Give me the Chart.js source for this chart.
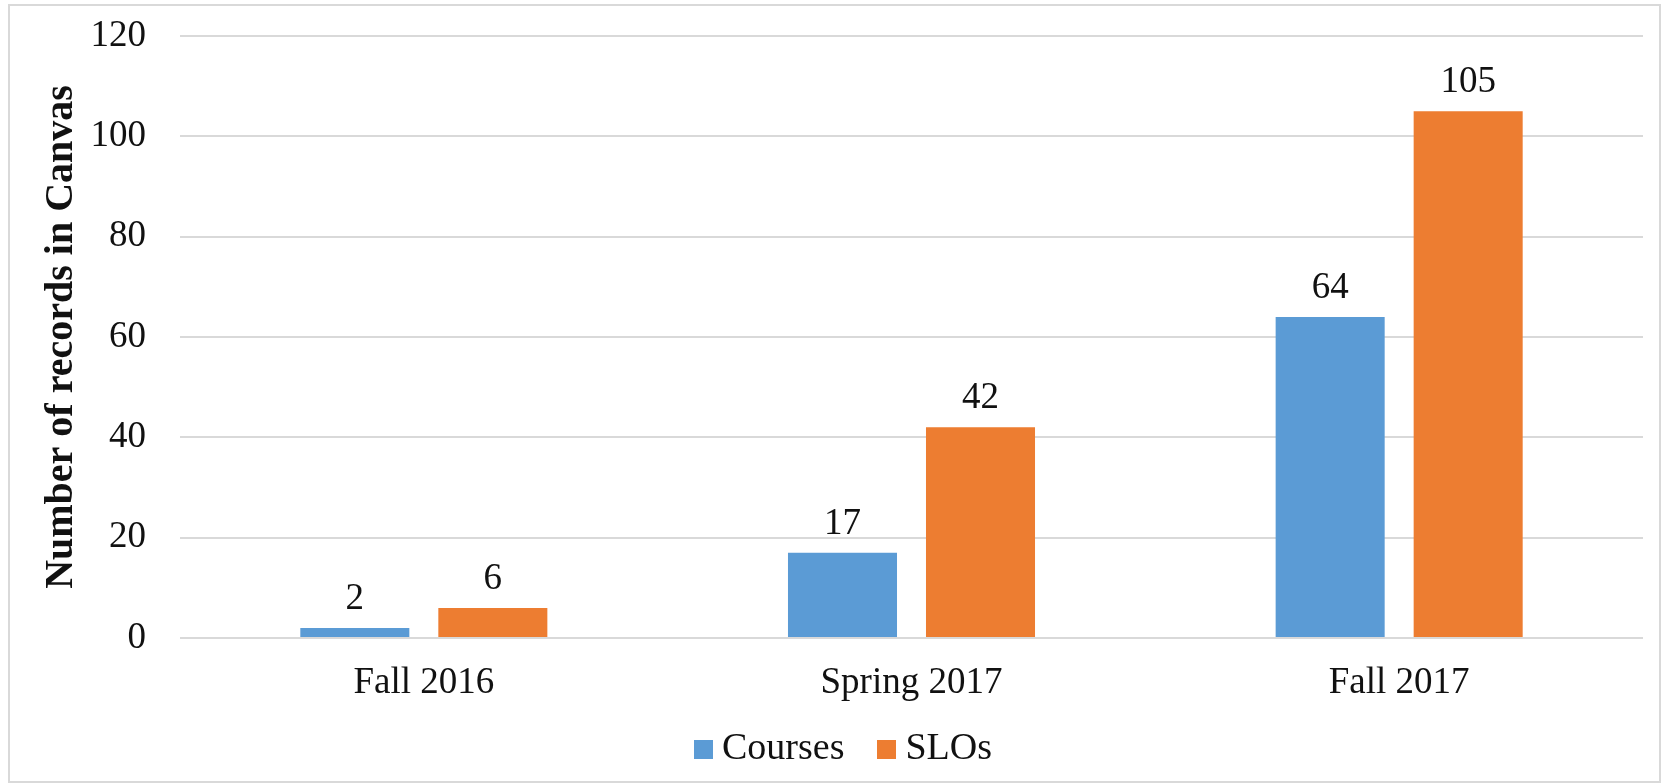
<!DOCTYPE html>
<html lang="en">
<head>
  <meta charset="UTF-8" />
  <title>Number of records in Canvas</title>
  <script src="https://cdn.jsdelivr.net/npm/chart.js"></script>
  <style>
    html, body {
      margin: 0;
      padding: 0;
      background: #fff;
    }
    body {
      width: 1668px;
      height: 784px;
      position: relative;
      overflow: hidden;
      font-family: "Liberation Serif", "Times New Roman", serif;
      color: #111;
    }
    .frame {
      position: absolute;
      left: 8px;
      top: 4px;
      width: 1649px;
      height: 775px;
      border: 2px solid #d9d9d9;
    }
    #chart {
      position: absolute;
      left: 0;
      top: 0;
    }
    #legend {
      position: absolute;
      left: 694px;
      top: 724px;
      font-size: 38px;
      line-height: 44px;
      white-space: nowrap;
    }
    #legend .item + .item {
      margin-left: 33px;
    }
    #legend .box {
      display: inline-block;
      width: 19px;
      height: 19px;
      margin-right: 9px;
    }
  </style>
</head>
<body>

  <div class="frame"></div>
  <canvas id="chart" width="1668" height="784"></canvas>
  <div id="legend"></div>

  <script>
    // data
    const categories = ['Fall 2016', 'Spring 2017', 'Fall 2017'];
    const courses = [2, 17, 64];
    const slos = [6, 42, 105];
    const yTicks = [0, 20, 40, 60, 80, 100, 120];

    const FONT = '"Liberation Serif", "Times New Roman", serif';
    const TEXT = '#111';

    // numbers above each bar
    const valueLabels = {
      id: 'valueLabels',
      afterDatasetsDraw(chart) {
        const ctx = chart.ctx;
        ctx.save();
        ctx.font = '37px ' + FONT;
        ctx.fillStyle = TEXT;
        ctx.textAlign = 'center';
        ctx.textBaseline = 'alphabetic';
        chart.data.datasets.forEach((ds, i) => {
          chart.getDatasetMeta(i).data.forEach((bar, j) => {
            ctx.fillText(ds.data[j], bar.x, bar.y - 19);
          });
        });
        ctx.restore();
      }
    };

    const ctx = document.getElementById('chart').getContext('2d');
    const chart = new Chart(ctx, {
      type: 'bar',
      data: {
        labels: categories,
        datasets: [
          { label: 'Courses', data: courses, backgroundColor: '#5b9bd5' },
          { label: 'SLOs', data: slos, backgroundColor: '#ed7d31' }
        ]
      },
      options: {
        responsive: false,
        animation: false,
        devicePixelRatio: 1,
        categoryPercentage: 0.566,
        barPercentage: 0.79,
        layout: { padding: { top: 36, right: 25, left: 0, bottom: 0 } },
        scales: {
          x: {
            grid: { display: false },
            border: { display: false },
            ticks: {
              color: TEXT,
              padding: 15,
              font: { family: FONT, size: 37 }
            },
            afterFit: scale => { scale.height = 146; }
          },
          y: {
            min: 0,
            max: 120,
            afterBuildTicks: scale => {
              scale.ticks = yTicks.map(v => ({ value: v }));
            },
            grid: { color: '#d9d9d9', lineWidth: 2, drawTicks: false },
            border: { display: false },
            ticks: {
              color: TEXT,
              padding: 34,
              font: { family: FONT, size: 37 }
            },
            title: {
              display: true,
              text: 'Number of records in Canvas',
              color: TEXT,
              padding: { top: 38, bottom: 0 },
              font: { family: FONT, size: 40, weight: 'bold' }
            },
            afterFit: scale => {
              scale.width = 180;
              scale.paddingTop = 0;
              scale.paddingBottom = 0;
            }
          }
        },
        plugins: {
          legend: { display: false },
          tooltip: { enabled: false }
        }
      },
      plugins: [valueLabels]
    });

    // legend below the axis, built from the datasets
    const legend = document.getElementById('legend');
    chart.data.datasets.forEach(ds => {
      const item = document.createElement('span');
      item.className = 'item';
      const box = document.createElement('span');
      box.className = 'box';
      box.style.background = ds.backgroundColor;
      item.appendChild(box);
      item.appendChild(document.createTextNode(ds.label));
      legend.appendChild(item);
    });
  </script>

</body>
</html>
